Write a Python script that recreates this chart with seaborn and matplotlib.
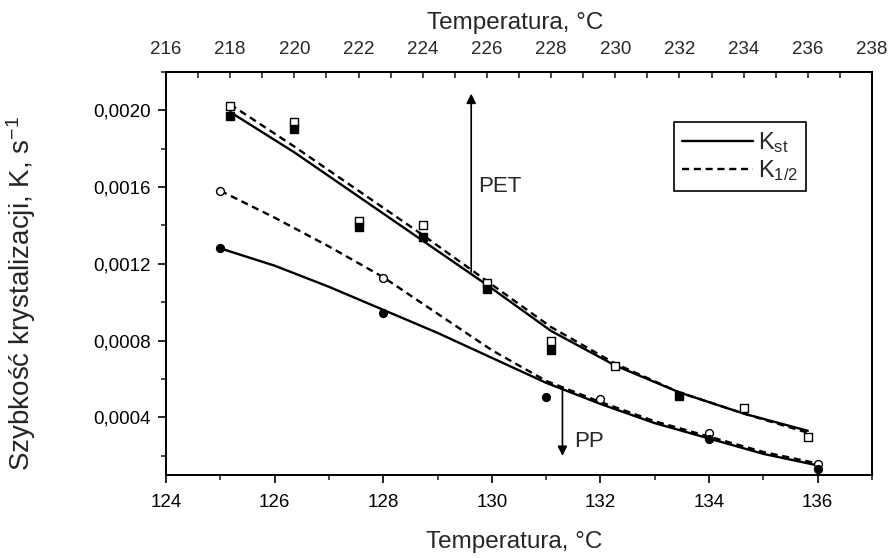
import numpy as np
import pandas as pd
import matplotlib
matplotlib.use("Agg")
import matplotlib.pyplot as plt
import seaborn as sns
from matplotlib.lines import Line2D
from matplotlib.ticker import MultipleLocator, FuncFormatter

# ---------------- data ----------------
# PET (top axis, temperature 216-238 C)
pet_open_t = [218, 220, 222, 224, 226, 228, 230, 234, 236]
pet_open_k = [0.00202, 0.00194, 0.00142, 0.00140, 0.00110, 0.00080, 0.00067, 0.00045, 0.00030]
pet_fill_t = [218, 220, 222, 224, 226, 228, 232]
pet_fill_k = [0.00197, 0.00190, 0.00139, 0.00134, 0.00107, 0.00075, 0.00051]

pet_curve_t = [218, 220, 222, 224, 226, 228, 230, 232, 234, 236]
pet_kst = [0.00199, 0.00178, 0.00155, 0.00132, 0.00109, 0.00085, 0.00067, 0.00053, 0.00042, 0.00033]
pet_k12 = [0.00203, 0.00181, 0.00158, 0.00135, 0.00111, 0.00087, 0.00068, 0.00053, 0.00042, 0.00032]

# PP (bottom axis, temperature 124-137 C)
pp_open_t = [125, 128, 132, 134, 136]
pp_open_k = [0.00158, 0.001126, 0.000495, 0.00032, 0.000158]
pp_fill_t = [125, 128, 131, 134, 136]
pp_fill_k = [0.00128, 0.000945, 0.000505, 0.00029, 0.00013]

pp_curve_t = [125, 126, 127, 128, 129, 130, 131, 132, 133, 134, 135, 136]
pp_kst = [0.00128, 0.00119, 0.00108, 0.00096, 0.00084, 0.00071, 0.00058, 0.00047, 0.00037, 0.00029, 0.00021, 0.00015]
pp_k12 = [0.00158, 0.00144, 0.00129, 0.00113, 0.00094, 0.00075, 0.00059, 0.00048, 0.00038, 0.00030, 0.00022, 0.00016]

bottom_ticks = [124, 126, 128, 130, 132, 134, 136]
top_ticks = [216, 218, 220, 222, 224, 226, 228, 230, 232, 234, 236, 238]
y_ticks = [0.0004, 0.0008, 0.0012, 0.0016, 0.0020]

xlabel = "Temperatura, °C"
ylabel = "Szybkość krystalizacji, K, s$^{-1}$"
leg_labels = ["K$_{st}$", "K$_{1/2}$"]

# ---------------- style ----------------
sns.set_style("ticks")
plt.rcParams["font.family"] = ["Liberation Sans", "DejaVu Sans"]
plt.rcParams["mathtext.default"] = "regular"
plt.rcParams["axes.linewidth"] = 1.3

fig = plt.figure(figsize=(8.95, 5.58), dpi=100)
ax = fig.add_axes([166 / 895, 1 - 475 / 558, (872 - 166) / 895, (475 - 71.7) / 558])
ax2 = ax.twiny()

dash = (0, (3.0, 2.0))
lw = 1.7

# PP on bottom axis
sns.lineplot(x=pp_curve_t, y=pp_kst, ax=ax, color="black", lw=lw)
sns.lineplot(x=pp_curve_t, y=pp_k12, ax=ax, color="black", lw=lw, linestyle=dash)
sns.scatterplot(x=pp_open_t, y=pp_open_k, ax=ax, marker="o", s=32,
                facecolor="white", edgecolor="black", linewidth=1.0, zorder=5)
sns.scatterplot(x=pp_fill_t, y=pp_fill_k, ax=ax, marker="o", s=32,
                color="black", edgecolor="black", linewidth=1.0, zorder=5)

# PET on top axis
sns.lineplot(x=pet_curve_t, y=pet_kst, ax=ax2, color="black", lw=lw)
sns.lineplot(x=pet_curve_t, y=pet_k12, ax=ax2, color="black", lw=lw, linestyle=dash)
sns.scatterplot(x=pet_open_t, y=pet_open_k, ax=ax2, marker="s", s=30,
                facecolor="white", edgecolor="black", linewidth=1.0, zorder=5)
sns.scatterplot(x=pet_fill_t, y=pet_fill_k, ax=ax2, marker="s", s=30,
                color="black", edgecolor="black", linewidth=1.0, zorder=5)

# limits & ticks
ax.set_xlim(124, 137)
ax.set_ylim(0.0001, 0.0022)
ax2.set_xlim(216, 238)

ax.set_xticks(bottom_ticks)
ax.xaxis.set_minor_locator(MultipleLocator(1))
ax.set_yticks(y_ticks)
ax.yaxis.set_minor_locator(MultipleLocator(0.0002))
ax.yaxis.set_major_formatter(FuncFormatter(lambda v, p: f"{v:.4f}".replace(".", ",")))
ax.tick_params(axis="both", which="major", direction="out", length=6, width=1.2,
               labelsize=13.5, colors="black", pad=5)
ax.tick_params(axis="x", which="major", pad=8)
ax.tick_params(axis="both", which="minor", direction="out", length=3.5, width=1.2)
ax.tick_params(top=False, right=False, which="both")

ax2.set_xticks(top_ticks)
ax2.xaxis.set_minor_locator(MultipleLocator(1))
ax2.tick_params(axis="x", which="major", direction="in", length=4, width=1.2,
                labelsize=13.5, pad=10)
ax2.tick_params(axis="x", which="minor", direction="in", length=4, width=1.2)
ax2.tick_params(right=False, which="both")

for a in (ax, ax2):
    for sp in a.spines.values():
        sp.set_visible(True)
        sp.set_color("black")
        sp.set_linewidth(1.3)

ax.set_xlabel(xlabel, fontsize=17.5)
ax.set_ylabel(ylabel, fontsize=20)
ax2.set_xlabel(xlabel, fontsize=17.5)
ax.xaxis.set_label_coords(0.493, -0.14)
ax.yaxis.set_label_coords(-0.181, 0.449)
ax2.xaxis.set_label_coords(0.494, 1.106)

# arrows and annotations
ax.annotate("", xy=(129.62, 0.00210), xytext=(129.62, 0.001143),
            arrowprops=dict(arrowstyle="-|>", color="black", lw=1.2, mutation_scale=14))
ax.text(129.75, 0.0016, "PET", fontsize=16, va="center", ha="left")
ax.annotate("", xy=(131.3, 0.000185), xytext=(131.3, 0.00057),
            arrowprops=dict(arrowstyle="-|>", color="black", lw=1.2, mutation_scale=14))
ax.text(131.52, 0.000274, "PP", fontsize=16, va="center", ha="left")

# legend
handles = [Line2D([], [], color="black", lw=lw),
           Line2D([], [], color="black", lw=lw, linestyle=dash)]
leg = ax.legend(handles, leg_labels, loc="upper left", bbox_to_anchor=(0.7195, 0.8745),
                borderaxespad=0, frameon=True, fancybox=False, fontsize=17,
                handlelength=3.0, handletextpad=0.2, labelspacing=0.1,
                borderpad=0.35)
leg.get_frame().set_edgecolor("black")
leg.get_frame().set_linewidth(1.2)
leg.get_frame().set_alpha(1)

fig.savefig("out.png", dpi=100, facecolor="white")
